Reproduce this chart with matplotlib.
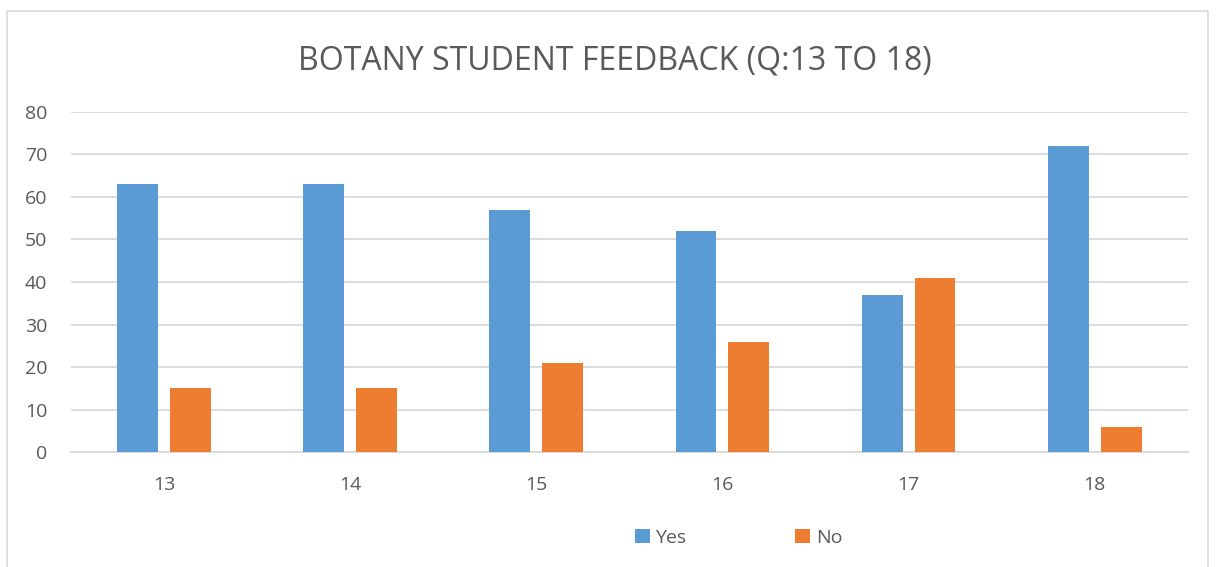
import numpy as np
import matplotlib
matplotlib.use("Agg")
import matplotlib.pyplot as plt
from matplotlib.patches import Rectangle

# chart data
questions = ["13", "14", "15", "16", "17", "18"]
yes_vals = [63, 63, 57, 52, 37, 72]
no_vals = [15, 15, 21, 26, 41, 6]

blue = "#5B9BD5"
orange = "#ED7D31"
txt = "#595959"

plt.rcParams['font.family'] = ['Open Sans', 'DejaVu Sans']

fig = plt.figure(figsize=(12.17, 5.67), dpi=100)
ax = fig.add_axes([0.0583, 0.2028, 0.9177, 0.5997])

x = np.arange(len(questions))
w = 0.22
ax.bar(x - 0.142, yes_vals, w, color=blue, label="Yes", zorder=3)
ax.bar(x + 0.142, no_vals, w, color=orange, label="No", zorder=3)

ax.set_xlim(-0.5, len(questions) - 0.5)
ax.set_ylim(0, 80)
ax.set_yticks(range(0, 81, 10))
ax.set_xticks(x)
ax.set_xticklabels(questions)
ax.yaxis.grid(True, color="#D9D9D9", linewidth=1.3, zorder=0)
for s in ["top", "right", "left"]:
    ax.spines[s].set_visible(False)
ax.spines["bottom"].set_color("#D9D9D9")
ax.spines["bottom"].set_linewidth(1.3)
ax.tick_params(axis="both", length=0, labelsize=14, colors=txt)
ax.tick_params(axis="x", pad=17)
ax.tick_params(axis="y", pad=17)

fig.text(0.505, 0.893, "BOTANY STUDENT FEEDBACK (Q:13 TO 18)", ha="center",
         va="center", fontsize=23, color=txt)

fig.legend(loc="center", bbox_to_anchor=(0.607, 0.052), ncol=2, frameon=False,
           fontsize=14, labelcolor=txt, handlelength=0.75, handleheight=0.75,
           handletextpad=0.3, columnspacing=5.6)

# chart border
fig.patches.append(Rectangle((0.006, -0.01), 0.987, 0.99, transform=fig.transFigure,
                             fill=False, edgecolor="#D9D9D9", linewidth=1.2))

fig.savefig("out.png", dpi=100)
